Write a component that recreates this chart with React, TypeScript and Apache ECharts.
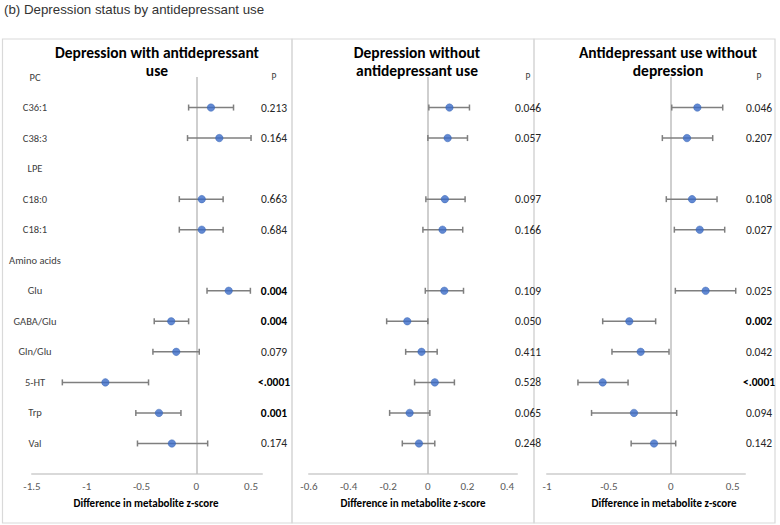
import React, { useEffect, useRef } from "react";
import * as echarts from "echarts";

const rows = ["PC", "C36:1", "C38:3", "LPE", "C18:0", "C18:1", "Amino acids", "Glu", "GABA/Glu", "Gln/Glu", "5-HT", "Trp", "Val", ""];
const dataRows = ["C36:1", "C38:3", "C18:0", "C18:1", "Glu", "GABA/Glu", "Gln/Glu", "5-HT", "Trp", "Val"];

const panelTitles = [
  ["Depression with antidepressant", "use"],
  ["Depression without", "antidepressant use"],
  ["Antidepressant use without", "depression"],
];

// Panel 1: Depression with antidepressant use
const est1 = [0.134, 0.21, 0.05, 0.05, 0.296, -0.229, -0.183, -0.83, -0.341, -0.223];
const lo1 = [-0.07, -0.08, -0.155, -0.155, 0.098, -0.384, -0.396, -1.223, -0.552, -0.537];
const hi1 = [0.34, 0.5, 0.245, 0.245, 0.494, -0.07, 0.027, -0.436, -0.14, 0.104];
const p1 = ["0.213", "0.164", "0.663", "0.684", "0.004", "0.004", "0.079", "<.0001", "0.001", "0.174"];
const bold1 = [false, false, false, false, true, true, false, true, true, false];

// Panel 2: Depression without antidepressant use
const est2 = [0.109, 0.1, 0.086, 0.074, 0.083, -0.104, -0.032, 0.035, -0.092, -0.045];
const lo2 = [0.005, 0.0, -0.01, -0.025, -0.013, -0.208, -0.112, -0.067, -0.193, -0.129];
const hi2 = [0.21, 0.2, 0.188, 0.176, 0.18, 0.0, 0.047, 0.134, 0.01, 0.035];
const p2 = ["0.046", "0.057", "0.097", "0.166", "0.109", "0.050", "0.411", "0.528", "0.065", "0.248"];
const bold2 = [false, false, false, false, false, false, false, false, false, false];

// Panel 3: Antidepressant use without depression
const est3 = [0.215, 0.131, 0.172, 0.234, 0.282, -0.335, -0.243, -0.55, -0.297, -0.135];
const lo3 = [0.008, -0.068, -0.036, 0.029, 0.037, -0.55, -0.475, -0.75, -0.64, -0.32];
const hi3 = [0.42, 0.339, 0.374, 0.436, 0.525, -0.122, -0.014, -0.345, 0.048, 0.04];
const p3 = ["0.046", "0.207", "0.108", "0.027", "0.025", "0.002", "0.042", "<.0001", "0.094", "0.142"];
const bold3 = [false, false, false, false, false, true, false, true, false, false];

const xMin = [-1.5, -0.6, -1];
const xMax = [0.6, 0.45, 0.6];
const xInterval = [0.5, 0.2, 0.5];

const panels = [
  { est: est1, lo: lo1, hi: hi1, p: p1, bold: bold1 },
  { est: est2, lo: lo2, hi: hi2, p: p2, bold: bold2 },
  { est: est3, lo: lo3, hi: hi3, p: p3, bold: bold3 },
];

const FONT = "Calibri, Carlito, 'Open Sans', 'Noto Sans', sans-serif";

export default function App() {
  const ref = useRef<HTMLDivElement>(null);
  useEffect(() => {
    if (!ref.current) return;
    const chart = echarts.init(ref.current, null, { renderer: "svg" });

    const gridBoxes = [
      { left: 32, width: 230, pMargin: 12 },
      { left: 309, width: 208, pMargin: 11 },
      { left: 547, width: 198, pMargin: 14 },
    ];
    const top = 77;
    const height = 397;

    const grid: any[] = [];
    const xAxis: any[] = [];
    const yAxis: any[] = [];
    const series: any[] = [];

    panels.forEach((pn, i) => {
      const g = gridBoxes[i];
      grid.push({ left: g.left, top, width: g.width, height, containLabel: false });
      xAxis.push({
        type: "value",
        gridIndex: i,
        min: xMin[i],
        max: xMax[i],
        interval: xInterval[i],
        axisLine: { show: true, onZero: false, lineStyle: { color: "#d9d9d9", width: 2 } },
        axisTick: { show: false },
        splitLine: { show: false },
        axisLabel: { showMaxLabel: false, color: "#595959", fontSize: 11, fontFamily: FONT, margin: 7 },
      });
      const pLabels = rows.map((r) => {
        if (r === "PC") return "P";
        const k = dataRows.indexOf(r);
        if (k < 0) return "";
        return pn.bold[k] ? `{b|${pn.p[k]}}` : `{n|${pn.p[k]}}`;
      });
      yAxis.push({
        type: "category",
        gridIndex: i,
        data: rows,
        inverse: true,
        boundaryGap: false,
        position: "left",
        axisLine: { show: false, lineStyle: { color: "#404040" } },
        axisTick: { show: false },
        splitLine: { show: false },
        axisLabel: {
          show: i === 0,
          interval: 0,
          align: "center",
          margin: -3,
          color: "#404040",
          fontSize: 10.5,
          fontFamily: FONT,
        },
      });
      yAxis.push({
        type: "category",
        gridIndex: i,
        data: rows,
        inverse: true,
        boundaryGap: false,
        position: "right",
        axisLine: { show: false, lineStyle: { color: "#404040" } },
        axisTick: { show: false },
        splitLine: { show: false },
        axisLabel: {
          interval: 0,
          align: "center",
          margin: g.pMargin,
          color: "#404040",
          fontSize: 9.5,
          fontFamily: FONT,
          formatter: (_v: string, idx: number) => pLabels[idx],
          rich: {
            n: { fontSize: 11.5, color: "#262626", fontFamily: FONT },
            b: { fontSize: 11.5, color: "#000000", fontWeight: "bold", fontFamily: FONT },
          },
        },
      });

      const errData = dataRows.map((r, k) => [rows.indexOf(r), pn.lo[k], pn.hi[k]]);
      series.push({
        type: "custom",
        xAxisIndex: i,
        yAxisIndex: i * 2,
        data: errData,
        encode: { x: [1, 2], y: 0 },
        renderItem: (params: any, api: any) => {
          const yIdx = api.value(0);
          const a = api.coord([api.value(1), yIdx]);
          const b = api.coord([api.value(2), yIdx]);
          const cap = 3;
          const style = { stroke: "#7f7f7f", lineWidth: 1.5 };
          return {
            type: "group",
            children: [
              { type: "line", shape: { x1: a[0], y1: a[1], x2: b[0], y2: b[1] }, style },
              { type: "line", shape: { x1: a[0], y1: a[1] - cap, x2: a[0], y2: a[1] + cap }, style },
              { type: "line", shape: { x1: b[0], y1: b[1] - cap, x2: b[0], y2: b[1] + cap }, style },
            ],
          };
        },
        z: 2,
      });
      series.push({
        type: "scatter",
        xAxisIndex: i,
        yAxisIndex: i * 2,
        data: dataRows.map((r, k) => [pn.est[k], rows.indexOf(r)]),
        symbol: "circle",
        symbolSize: 7.5,
        itemStyle: { color: "#3b6cc8", borderColor: "#2f5faf", borderWidth: 0.5 },
        z: 3,
        markLine: {
          silent: true,
          symbol: "none",
          label: { show: false },
          lineStyle: { color: "#bfbfbf", width: 1.5, type: "solid" },
          data: [{ xAxis: 0 }],
          z: 1,
        },
      });
    });

    const graphic: any[] = [
      { type: "rect", shape: { x: 2.5, y: 39, width: 289.5, height: 484 }, style: { fill: "none", stroke: "#d9d9d9", lineWidth: 1.2 } },
      { type: "rect", shape: { x: 292, y: 39, width: 242, height: 484 }, style: { fill: "none", stroke: "#d9d9d9", lineWidth: 1.2 } },
      { type: "rect", shape: { x: 534, y: 39, width: 241, height: 484 }, style: { fill: "none", stroke: "#d9d9d9", lineWidth: 1.2 } },
      {
        type: "text",
        x: 4,
        y: 9,
        style: { text: "(b) Depression status by antidepressant use", font: "13.3px Arial, 'Liberation Sans', sans-serif", fill: "#333", verticalAlign: "middle", align: "left" },
      },
    ];
    const titleCenters = [157, 417, 668];
    panelTitles.forEach((t, i) => {
      t.forEach((line, j) => {
        graphic.push({
          type: "text",
          x: titleCenters[i],
          y: 52 + j * 18,
          style: { text: line, font: `bold 15.5px ${FONT}`, fill: "#000", align: "center", verticalAlign: "middle" },
        });
      });
    });
    const axisTitleCenters = [146, 413, 664];
    axisTitleCenters.forEach((cx) => {
      graphic.push({
        type: "text",
        x: cx,
        y: 503,
        style: { text: "Difference in metabolite z-score", font: `bold 11px ${FONT}`, fill: "#000", align: "center", verticalAlign: "middle" },
      });
    });

    chart.setOption({
      animation: false,
      backgroundColor: "#fff",
      grid,
      xAxis,
      yAxis,
      series,
      graphic,
    });
    return () => chart.dispose();
  }, []);
  return <div ref={ref} style={{ width: 780, height: 525, position: "absolute", left: 0, top: 0 }} />;
}
